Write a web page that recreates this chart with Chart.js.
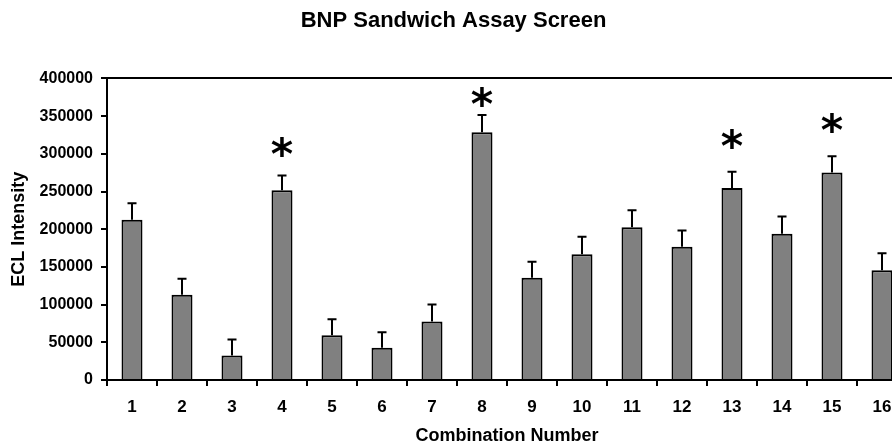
<!DOCTYPE html>
<html>
<head>
<meta charset="utf-8">
<script src="https://cdn.jsdelivr.net/npm/chart.js@4"></script>
<style>
  html, body { margin: 0; padding: 0; background: #fff; overflow: hidden; }
  #wrap { width: 892px; height: 447px; overflow: hidden; }
</style>
</head>
<body>
<div id="wrap"><canvas id="assayChart" width="913" height="447"></canvas></div>
<script>
// Data
const combinations = ['1', '2', '3', '4', '5', '6', '7', '8', '9', '10', '11', '12', '13', '14', '15', '16'];
const eclIntensity = [212400, 113200, 32600, 251500, 59500, 42700, 77500, 328600, 135700, 166900, 202600, 176700, 254600, 193900, 275300, 145400];
const eclError = [22000, 21200, 21200, 19800, 21100, 20700, 22500, 22900, 21100, 23000, 22400, 21500, 21600, 22800, 21600, 22800];

// Significant combinations, marked with an asterisk, and the level the mark sits at
const starCombos = ['4', '8', '13', '15'];
const starLevels = [309000, 375000, 320000, 340500];

const yMin = 0;
const yMax = 400000;
const yStep = 50000;

const FONT = '"Liberation Sans", Arial, sans-serif';
const STAR_FONT = '"DejaVu Sans", sans-serif';

// Error bars + asterisks drawn over the bars
const errorBarsPlugin = {
    id: 'errorBars',
    afterDatasetsDraw(chart) {
        const { ctx, scales: { x, y } } = chart;
        const meta = chart.getDatasetMeta(0);
        ctx.save();
        ctx.strokeStyle = '#000';
        ctx.lineWidth = 2;
        meta.data.forEach((bar, i) => {
            const base = y.getPixelForValue(eclIntensity[i]);
            const top = y.getPixelForValue(eclIntensity[i] + eclError[i]);
            ctx.beginPath();
            ctx.moveTo(bar.x, base);
            ctx.lineTo(bar.x, top);
            ctx.moveTo(bar.x - 4.5, top);
            ctx.lineTo(bar.x + 4.5, top);
            ctx.stroke();
        });

        // size the asterisk so the glyph is ~21px wide
        ctx.font = 'bold 100px ' + STAR_FONT;
        const m = ctx.measureText('*');
        const w100 = m.actualBoundingBoxLeft + m.actualBoundingBoxRight;
        const size = 100 * 21 / w100;
        ctx.font = 'bold ' + size + 'px ' + STAR_FONT;
        const mm = ctx.measureText('*');
        ctx.fillStyle = '#000';
        ctx.textAlign = 'center';
        ctx.textBaseline = 'alphabetic';
        starCombos.forEach((c, k) => {
            const cx = x.getPixelForValue(combinations.indexOf(c));
            const cy = y.getPixelForValue(starLevels[k]);
            const shift = (mm.actualBoundingBoxAscent - mm.actualBoundingBoxDescent) / 2;
            ctx.fillText('*', cx, cy + shift);
        });
        ctx.restore();
    }
};

new Chart(document.getElementById('assayChart'), {
    type: 'bar',
    data: {
        labels: combinations,
        datasets: [{
            data: eclIntensity,
            backgroundColor: '#808080',
            borderColor: '#000',
            borderWidth: 2,
            barPercentage: 0.42,
            categoryPercentage: 1.0
        }]
    },
    options: {
        responsive: false,
        animation: false,
        devicePixelRatio: 1,
        layout: { padding: { left: 0, right: 6, top: 0, bottom: 0 } },
        plugins: {
            legend: { display: false },
            tooltip: { enabled: false },
            title: {
                display: true,
                text: 'BNP Sandwich Assay Screen',
                color: '#000',
                font: { family: FONT, size: 22, weight: 'bold' },
                padding: { top: 8, bottom: 44 }
            }
        },
        scales: {
            x: {
                afterFit: (scale) => { scale.height = 67; },
                grid: {
                    drawOnChartArea: false,
                    drawTicks: true,
                    tickLength: 6,
                    color: '#000',
                    lineWidth: 2
                },
                border: { display: true, color: '#000', width: 2 },
                ticks: {
                    color: '#000',
                    padding: 11,
                    maxRotation: 0,
                    font: { family: FONT, size: 17, weight: 'bold' }
                },
                title: {
                    display: true,
                    text: 'Combination Number',
                    color: '#000',
                    font: { family: FONT, size: 18, weight: 'bold' },
                    padding: { top: 0, bottom: 0 }
                }
            },
            y: {
                min: yMin,
                max: yMax,
                afterFit: (scale) => { scale.width = 107; },
                grid: {
                    drawOnChartArea: true,
                    drawTicks: true,
                    tickLength: 6,
                    color: (c) => (c.tick && c.tick.value === yMax ? '#000' : 'rgba(0,0,0,0)'),
                    tickColor: '#000',
                    lineWidth: 2
                },
                border: { display: true, color: '#000', width: 2 },
                ticks: {
                    stepSize: yStep,
                    color: '#000',
                    padding: 8,
                    font: { family: FONT, size: 16, weight: 'bold' },
                    callback: (v) => String(v)
                },
                title: {
                    display: true,
                    text: 'ECL Intensity',
                    color: '#000',
                    font: { family: FONT, size: 18, weight: 'bold' },
                    padding: { top: 8, bottom: 0 }
                }
            }
        }
    },
    plugins: [errorBarsPlugin]
});
</script>
</body>
</html>
